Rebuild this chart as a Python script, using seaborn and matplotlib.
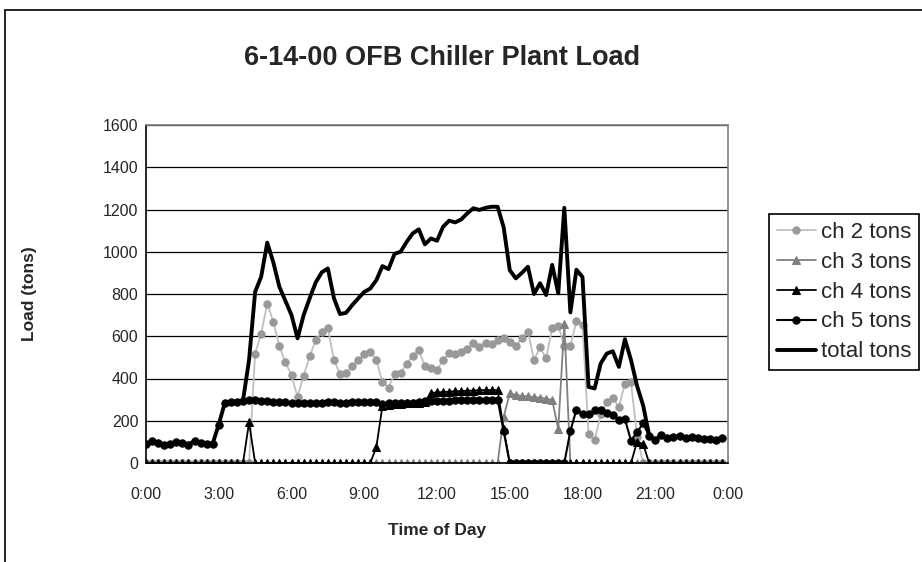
# -*- coding: utf-8 -*-
# 6-14-00 OFB Chiller Plant Load - leituras a cada 15 min

import numpy as np
import matplotlib
matplotlib.use('Agg')
import matplotlib.pyplot as plt
import seaborn as sns
from matplotlib.lines import Line2D

#%% dados
hours = np.arange(96) * 0.25  # 0:00 ... 23:45

ch2 = [0, 0, 0, 0, 0, 0, 0, 0, 0, 0, 0, 0, 0, 0, 0, 0, 0, 0,
       518, 613, 755, 669, 553, 476, 415, 313, 414, 505, 582, 620, 640, 487,
       422, 427, 458, 487, 514, 526, 487, 384, 357, 420, 428, 471, 506, 534,
       460, 452, 442, 487, 521, 515, 526, 542, 566, 550, 566, 565, 580, 592,
       575, 553, 590, 621, 488, 547, 495, 640, 649, 555, 552, 673, 654, 137,
       108, 230, 288, 308, 266, 376, 382, 125,
       0, 0, 0, 0, 0, 0, 0, 0, 0, 0, 0, 0, 0, 0]

ch3 = [0, 0, 0, 0, 0, 0, 0, 0, 0, 0, 0, 0, 0, 0, 0, 0, 0, 0, 0, 0,
       0, 0, 0, 0, 0, 0, 0, 0, 0, 0, 0, 0, 0, 0, 0, 0, 0, 0, 0, 0,
       0, 0, 0, 0, 0, 0, 0, 0, 0, 0, 0, 0, 0, 0, 0, 0, 0, 0, 0,
       218, 330, 322, 318, 315, 312, 308, 305, 298, 160, 660,
       0, 0, 0, 0, 0, 0, 0, 0, 0, 0, 0, 0, 0, 0, 0, 0, 0, 0, 0, 0,
       0, 0, 0, 0, 0, 0]

ch4 = [0, 0, 0, 0, 0, 0, 0, 0, 0, 0, 0, 0, 0, 0, 0, 0, 0, 192,
       0, 0, 0, 0, 0, 0, 0, 0, 0, 0, 0, 0, 0, 0, 0, 0, 0, 0, 0, 0,
       76, 270, 275, 278, 280, 282, 283, 285, 287, 330, 335, 335, 338, 340,
       340, 342, 343, 345, 345, 345, 345, 160,
       0, 0, 0, 0, 0, 0, 0, 0, 0, 0, 0, 0, 0, 0, 0, 0, 0, 0, 0, 0, 0,
       100, 90,
       0, 0, 0, 0, 0, 0, 0, 0, 0, 0, 0, 0, 0]

ch5 = [92, 103, 97, 84, 92, 100, 97, 87, 104, 97, 92, 92, 182,
       285, 288, 290, 292, 296, 298, 292, 292, 290, 288, 288, 286, 285, 285,
       284, 285, 285, 287, 287, 285, 285, 287, 287, 288, 290, 288, 280, 282,
       284, 285, 285, 286, 287, 292, 293, 294, 295, 295, 296, 296, 297, 298,
       298, 300, 300, 300, 150,
       0, 0, 0, 0, 0, 0, 0, 0, 0, 0,
       152, 253, 231, 232, 250, 250, 238, 226, 203, 207, 106, 147, 187, 127,
       108, 131, 120, 123, 127, 120, 123, 120, 115, 115, 111, 118]

total = [92, 103, 97, 84, 92, 100, 97, 87, 104, 97, 92, 92, 182,
         285, 288, 290, 295, 488, 810, 882, 1043, 950, 834, 767, 700, 590,
         700, 780, 855, 903, 921, 780, 705, 711, 747, 779, 810, 826, 866, 932,
         918, 990, 1000, 1047, 1087, 1106, 1035, 1063, 1052, 1118, 1147, 1139,
         1153, 1182, 1206, 1198, 1208, 1213, 1213, 1115, 913, 874, 900, 929,
         800, 851, 795, 938, 803, 1208, 713, 915, 880, 360, 353, 471, 518,
         529, 455, 586, 487, 365, 273, 131, 108, 131,
         120, 123, 127, 120, 123, 120, 115, 115, 111, 118]

tick_hours = [0, 3, 6, 9, 12, 15, 18, 21, 24]
tick_labels = ['0:00', '3:00', '6:00', '9:00', '12:00', '15:00', '18:00', '21:00', '0:00']
y_ticks = [0, 200, 400, 600, 800, 1000, 1200, 1400, 1600]

#%% estilo
sns.set_style('white')
plt.rcParams['font.family'] = ['Liberation Sans', 'DejaVu Sans']

fig = plt.figure(figsize=(9.22, 5.62), dpi=100)
ax = fig.add_axes([146 / 922, 1 - 463 / 562, 582 / 922, 338 / 562])

# series na ordem da legenda (total por cima)
sns.lineplot(x=hours, y=ch2, ax=ax, color='#c0c0c0', linewidth=1.3,
             marker='o', markersize=5.3, markerfacecolor='#999999',
             markeredgecolor='#999999', label='ch 2 tons')
sns.lineplot(x=hours, y=ch3, ax=ax, color='#808080', linewidth=1.3,
             marker='^', markersize=6, markerfacecolor='#808080',
             markeredgecolor='#808080', label='ch 3 tons')
sns.lineplot(x=hours, y=ch4, ax=ax, color='black', linewidth=1.3,
             marker='^', markersize=6, markerfacecolor='black',
             markeredgecolor='black', label='ch 4 tons')
sns.lineplot(x=hours, y=ch5, ax=ax, color='black', linewidth=1.5,
             marker='o', markersize=5.3, markerfacecolor='black',
             markeredgecolor='black', label='ch 5 tons')
sns.lineplot(x=hours, y=total, ax=ax, color='black', linewidth=2.8,
             label='total tons')

ax.set_xlim(0, 24)
ax.set_ylim(0, 1600)
ax.set_xticks(tick_hours)
ax.set_xticklabels(tick_labels)
ax.set_yticks(y_ticks)
ax.yaxis.grid(True, color='black', linewidth=0.9)
ax.xaxis.grid(False)
ax.set_axisbelow(True)

for side in ['left', 'bottom']:
    ax.spines[side].set_color('black')
    ax.spines[side].set_linewidth(1.2)
for side in ['top', 'right']:
    ax.spines[side].set_color('#808080')
    ax.spines[side].set_linewidth(1.2)

ax.tick_params(axis='both', direction='out', length=3, width=1,
               color='black', labelsize=11.5)
ax.tick_params(axis='y', pad=2.5)
ax.tick_params(axis='x', pad=14)

ax.set_xlabel('Time of Day', fontsize=12.5, fontweight='bold')
ax.set_ylabel('Load (tons)', fontsize=12.5, fontweight='bold')
ax.xaxis.set_label_coords(0.5, -(531 - 463) / 338)
ax.yaxis.set_label_coords(-(146 - 30) / 582, 0.5)
ax.xaxis.label.set_va('center')
ax.yaxis.label.set_va('center')

fig.text(0.48, 1 - 58 / 562, '6-14-00 OFB Chiller Plant Load',
         ha='center', va='center', fontsize=19.5, fontweight='bold')

handles, labels = ax.get_legend_handles_labels()
leg = ax.legend(handles, labels, loc='upper left',
                bbox_to_anchor=(769 / 922, 1 - 214 / 562),
                bbox_transform=fig.transFigure, fontsize=16,
                frameon=True, fancybox=False, edgecolor='black',
                framealpha=1, borderpad=0.35, labelspacing=0.4,
                handlelength=1.75, handletextpad=0.25, borderaxespad=0)
leg.get_frame().set_linewidth(1.2)

# borda externa do grafico (Excel)
fig.add_artist(Line2D([5 / 922, 5 / 922], [0, 1 - 10 / 562],
                      color='black', linewidth=1.2, transform=fig.transFigure))
fig.add_artist(Line2D([5 / 922, 1], [1 - 10 / 562, 1 - 10 / 562],
                      color='black', linewidth=1.2, transform=fig.transFigure))

fig.savefig('out.png', dpi=100)
